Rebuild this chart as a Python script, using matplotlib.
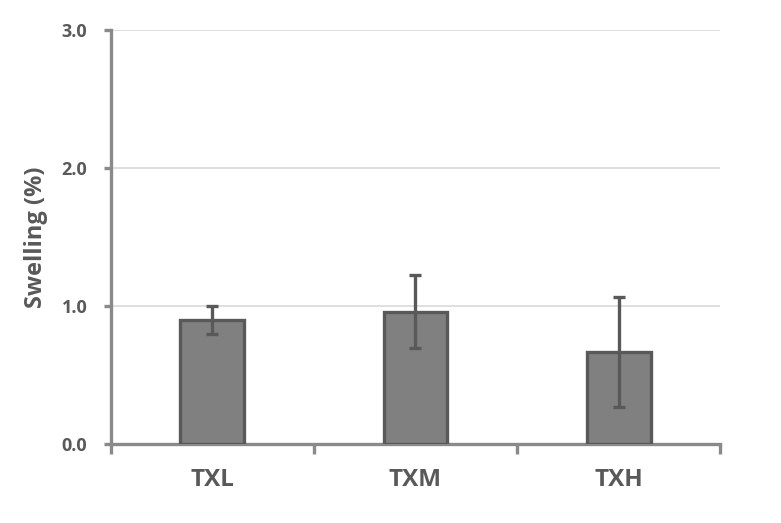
import matplotlib.pyplot as plt
import numpy as np

categories = ["TXL", "TXM", "TXH"]
swelling = [0.90, 0.96, 0.67]
swelling_err = [0.10, 0.265, 0.40]
y_ticks = [0.0, 1.0, 2.0, 3.0]

plt.rcParams["font.family"] = ["Open Sans", "DejaVu Sans"]

spine_c = "#8a8a8a"
text_c = "#595959"

fig = plt.figure(figsize=(7.81, 5.23), dpi=100)
ax = fig.add_axes([0.142, 0.1505, 0.78, 0.792])

x = np.arange(len(categories))
ax.bar(x, swelling, width=0.315, color="#808080", edgecolor="#595959",
       linewidth=2.4, zorder=3)
ax.errorbar(x, swelling, yerr=swelling_err, fmt="none", ecolor="#595959",
            elinewidth=2.4, capsize=4.5, capthick=2.4, zorder=4)

ax.set_xlim(-0.5, 2.5)
ax.set_ylim(0, 3.0)
ax.set_yticks(y_ticks)
ax.set_yticklabels([f"{v:.1f}" for v in y_ticks])
ax.set_xticks(x)
ax.set_xticklabels(categories)
ax.set_xticks([-0.5, 0.5, 1.5, 2.5], minor=True)

ax.yaxis.grid(True, color="#d9d9d9", linewidth=1.2, zorder=0)
ax.set_axisbelow(True)

for s in ["top", "right"]:
    ax.spines[s].set_visible(False)
for s in ["left", "bottom"]:
    ax.spines[s].set_color(spine_c)
    ax.spines[s].set_linewidth(2.4)

ax.tick_params(axis="y", direction="out", length=5, width=2.4, color=spine_c,
               pad=12, labelsize=13, labelcolor=text_c)
ax.tick_params(axis="x", which="major", length=0, pad=17, labelsize=17.5,
               labelcolor=text_c)
ax.tick_params(axis="x", which="minor", direction="out", length=7, width=2.4,
               color=spine_c)
for lbl in ax.get_xticklabels() + ax.get_yticklabels():
    lbl.set_fontweight("bold")

ax.set_ylabel("Swelling (%)", fontsize=17, fontweight="bold", color=text_c,
              labelpad=10)

fig.savefig("out.png", dpi=100)
